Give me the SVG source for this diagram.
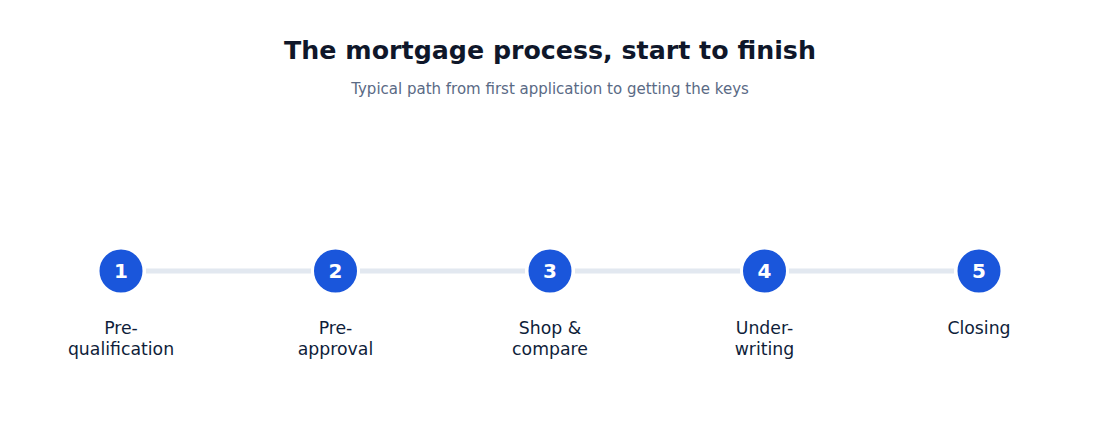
<svg xmlns="http://www.w3.org/2000/svg" width="1100" height="432" viewBox="0 0 1100 432">
<style>
.title{font-family:"DejaVu Sans",sans-serif;font-size:25.3px;font-weight:bold;fill:#0f172a;text-anchor:middle}
.sub{font-family:"DejaVu Sans",sans-serif;font-size:15px;fill:#5a6a85;text-anchor:middle}
.dot{fill:#1a56db;stroke:#ffffff;stroke-width:3}
.num{font-family:"DejaVu Sans",sans-serif;font-size:20px;font-weight:bold;fill:#ffffff;text-anchor:middle}
.lbl{font-family:"DejaVu Sans",sans-serif;font-size:17.3px;fill:#0f1e3a;text-anchor:middle}
.conn{stroke:#e2e8f0;stroke-width:5;stroke-linecap:butt}
</style>
<rect width="1100" height="432" fill="#ffffff"/>
<text class="title" x="550" y="59">The mortgage process, start to finish</text>
<text class="sub" x="550" y="94">Typical path from first application to getting the keys</text>
<g id="connectors">
<line class="conn" x1="146" y1="271" x2="311" y2="271"/>
<line class="conn" x1="360" y1="271" x2="525" y2="271"/>
<line class="conn" x1="575" y1="271" x2="740" y2="271"/>
<line class="conn" x1="789" y1="271" x2="954" y2="271"/>
</g>
<g id="step1">
<circle class="dot" cx="121" cy="271" r="23"/>
<text class="num" x="121" y="278">1</text>
<text class="lbl" x="121" y="334">Pre-</text>
<text class="lbl" x="121" y="354.5">qualification</text>
</g>
<g id="step2">
<circle class="dot" cx="335.5" cy="271" r="23"/>
<text class="num" x="335.5" y="278">2</text>
<text class="lbl" x="335.5" y="334">Pre-</text>
<text class="lbl" x="335.5" y="354.5">approval</text>
</g>
<g id="step3">
<circle class="dot" cx="550" cy="271" r="23"/>
<text class="num" x="550" y="278">3</text>
<text class="lbl" x="550" y="334">Shop &amp;</text>
<text class="lbl" x="550" y="354.5">compare</text>
</g>
<g id="step4">
<circle class="dot" cx="764.5" cy="271" r="23"/>
<text class="num" x="764.5" y="278">4</text>
<text class="lbl" x="764.5" y="334">Under-</text>
<text class="lbl" x="764.5" y="354.5">writing</text>
</g>
<g id="step5">
<circle class="dot" cx="979" cy="271" r="23"/>
<text class="num" x="979" y="278">5</text>
<text class="lbl" x="979" y="334">Closing</text>
</g>
</svg>
